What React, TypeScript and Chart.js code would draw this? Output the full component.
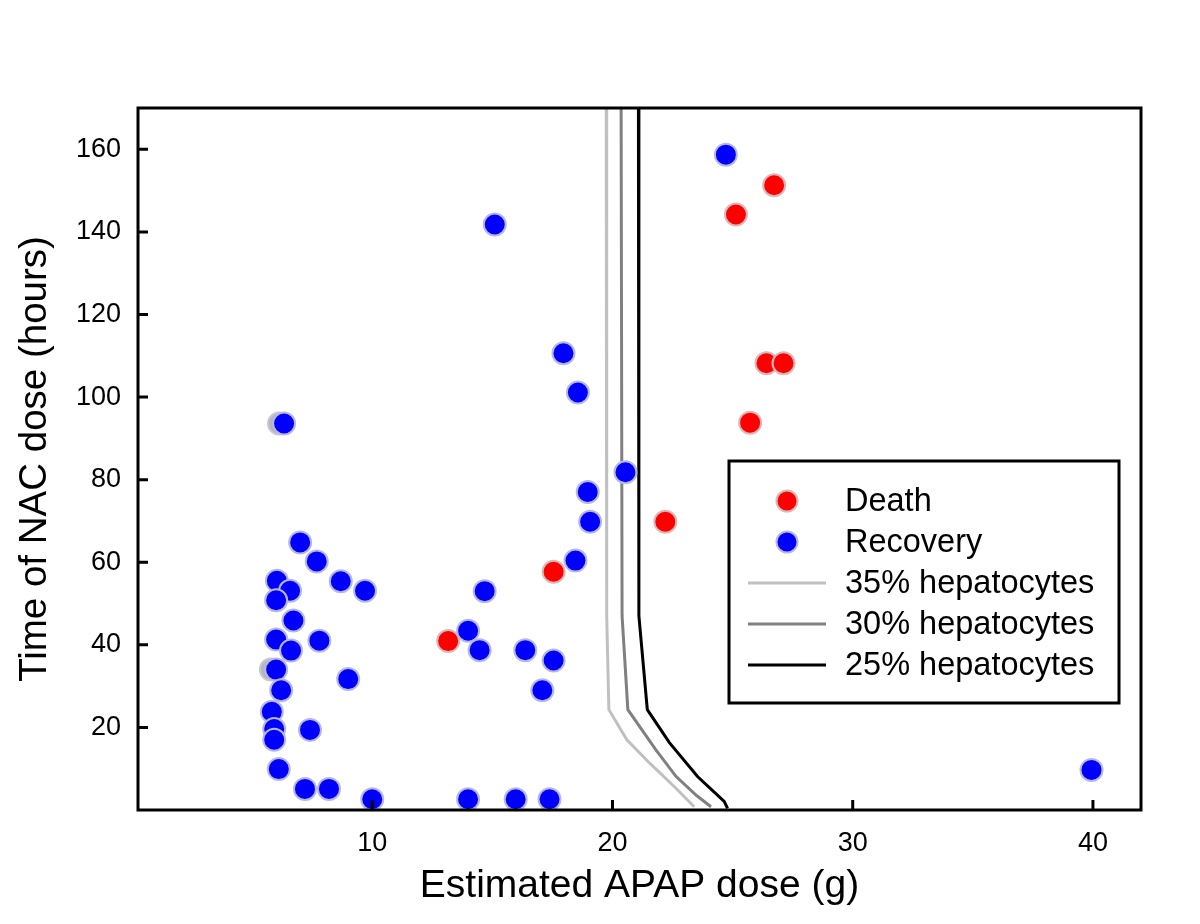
import React, { useEffect, useRef } from "react";
import { Chart, registerables } from "chart.js";

Chart.register(...registerables);

// ---------- data ----------
const recoveryDose = [
  24.72, 15.1, 17.96, 18.56, 6.33, 20.54, 18.97, 19.07, 7.0, 7.69, 18.46, 6.03, 6.58, 8.69,
  9.7, 14.68, 6.0, 6.72, 13.99, 6.0, 7.8, 6.62, 14.47, 16.37, 17.55, 6.0, 9.0, 6.21, 17.08,
  5.82, 7.41, 5.92, 5.92, 6.11, 7.2, 8.2, 10.0, 13.99, 15.97, 17.38, 39.94,
];
const recoveryTime = [
  158.7, 141.8, 110.6, 101.1, 93.6, 81.8, 77.0, 69.8, 64.8, 60.2, 60.4, 55.5, 53.1, 55.4,
  53.1, 53.0, 50.8, 45.9, 43.4, 41.3, 41.0, 38.6, 38.7, 38.7, 36.2, 34.0, 31.7, 29.0, 29.0,
  23.8, 19.4, 19.6, 17.0, 9.9, 5.1, 5.1, 2.6, 2.6, 2.6, 2.6, 9.7,
];

const deathDose = [26.73, 25.14, 26.41, 27.12, 25.73, 22.2, 17.55, 13.16];
const deathTime = [151.3, 144.2, 108.2, 108.2, 93.8, 69.8, 57.7, 40.9];

// partly hidden points peeking out from behind recovery markers
const hiddenDose = [6.12, 5.78];
const hiddenTime = [93.6, 34.0];

const curve35Dose = [19.74, 19.76, 19.85, 20.6, 21.54, 22.6, 23.4];
const curve35Time = [170, 47, 24.3, 17.0, 11.4, 5.5, 0.8];
const curve30Dose = [20.36, 20.4, 20.64, 21.8, 22.65, 23.5, 24.1];
const curve30Time = [170, 47, 24.3, 14.6, 8.1, 3.5, 0.8];
const curve25Dose = [21.08, 21.1, 21.45, 22.37, 23.54, 24.65, 24.79];
const curve25Time = [170, 47, 24.3, 16.3, 8.1, 2.1, 0.4];

const xTickValues = [10, 20, 30, 40];
const yTickValues = [20, 40, 60, 80, 100, 120, 140, 160];

const seriesLabels = ["Death", "Recovery", "35% hepatocytes", "30% hepatocytes", "25% hepatocytes"];

const FONT = "'Liberation Sans', Arial, Helvetica, sans-serif";

const toPoints = (xs: number[], ys: number[]) => xs.map((x, i) => ({ x, y: ys[i] }));

// ---------- plugins ----------
const frameAndTicks = {
  id: "frameAndTicks",
  afterDraw(chart: any) {
    const { ctx, chartArea: a, scales } = chart;
    ctx.save();
    ctx.strokeStyle = "#000";
    ctx.lineWidth = 3;
    ctx.beginPath();
    for (const t of scales.x.ticks) {
      const px = scales.x.getPixelForValue(t.value);
      ctx.moveTo(px, a.bottom);
      ctx.lineTo(px, a.bottom - 10);
    }
    for (const t of scales.y.ticks) {
      const py = scales.y.getPixelForValue(t.value);
      ctx.moveTo(a.left, py);
      ctx.lineTo(a.left + 10, py);
    }
    ctx.stroke();
    ctx.strokeRect(a.left, a.top, a.right - a.left, a.bottom - a.top);
    ctx.restore();
  },
};

const legendBox = {
  id: "legendBox",
  afterDraw(chart: any) {
    const { ctx } = chart;
    const ds = chart.data.datasets;
    const order = [2, 0, 4, 5, 6]; // Death, Recovery, 35, 30, 25
    const left = 729,
      top = 461,
      right = 1119,
      bottom = 703;
    ctx.save();
    ctx.fillStyle = "#fff";
    ctx.fillRect(left, top, right - left, bottom - top);
    ctx.strokeStyle = "#000";
    ctx.lineWidth = 3;
    ctx.strokeRect(left, top, right - left, bottom - top);
    ctx.font = `32.5px ${FONT}`;
    ctx.textBaseline = "middle";
    ctx.textAlign = "left";
    order.forEach((idx, i) => {
      const d = ds[idx];
      const cy = 501 + i * 41;
      if (d.showLine) {
        ctx.strokeStyle = d.borderColor;
        ctx.lineWidth = 3;
        ctx.beginPath();
        ctx.moveTo(748, cy);
        ctx.lineTo(826, cy);
        ctx.stroke();
      } else {
        ctx.beginPath();
        ctx.arc(787, cy, 10.5, 0, Math.PI * 2);
        ctx.fillStyle = d.backgroundColor;
        ctx.fill();
        ctx.strokeStyle = d.borderColor;
        ctx.lineWidth = 2;
        ctx.stroke();
      }
      ctx.fillStyle = "#000";
      ctx.fillText(d.label, 845, cy + 1);
    });
    ctx.restore();
  },
};

export default function App() {
  const ref = useRef<HTMLCanvasElement | null>(null);

  useEffect(() => {
    if (!ref.current) return;
    const chart = new Chart(ref.current, {
      type: "scatter",
      data: {
        datasets: [
          {
            label: seriesLabels[1],
            data: toPoints(recoveryDose, recoveryTime),
            backgroundColor: "#0000ff",
            borderColor: "#b8b8dc",
            borderWidth: 2,
            pointRadius: 11,
            clip: false,
          } as any,
          {
            label: "",
            data: toPoints(hiddenDose, hiddenTime),
            backgroundColor: "#b4b4c4",
            borderColor: "#c8c8d0",
            borderWidth: 2,
            pointRadius: 11,
            clip: false,
          },
          {
            label: seriesLabels[0],
            data: toPoints(deathDose, deathTime),
            backgroundColor: "#ff0000",
            borderColor: "#d8b8b8",
            borderWidth: 2,
            pointRadius: 11,
            clip: false,
          },
          { label: "spacer", data: [], hidden: true },
          {
            label: seriesLabels[2],
            data: toPoints(curve35Dose, curve35Time),
            showLine: true,
            borderColor: "#c0c0c0",
            backgroundColor: "#c0c0c0",
            borderWidth: 3,
            pointRadius: 0,
            tension: 0,
          },
          {
            label: seriesLabels[3],
            data: toPoints(curve30Dose, curve30Time),
            showLine: true,
            borderColor: "#808080",
            backgroundColor: "#808080",
            borderWidth: 3,
            pointRadius: 0,
            tension: 0,
          },
          {
            label: seriesLabels[4],
            data: toPoints(curve25Dose, curve25Time),
            showLine: true,
            borderColor: "#000000",
            backgroundColor: "#000000",
            borderWidth: 3,
            pointRadius: 0,
            tension: 0,
          },
        ],
      },
      options: {
        responsive: false,
        animation: false,
        events: [],
        layout: { padding: { top: 108, right: 59, left: 0, bottom: 0 } },
        plugins: { legend: { display: false }, tooltip: { enabled: false } },
        scales: {
          x: {
            type: "linear",
            min: 0.25,
            max: 42,
            grid: { display: false },
            border: { display: false },
            afterBuildTicks: (s: any) => {
              s.ticks = xTickValues.map((v) => ({ value: v }));
            },
            afterFit: (s: any) => {
              s.height = 114;
            },
            ticks: { color: "#000", padding: 9, font: { family: FONT, size: 27 } },
            title: {
              display: true,
              text: "Estimated APAP dose (g)",
              color: "#000",
              font: { family: FONT, size: 39 },
              padding: { top: 0, bottom: 14 },
            },
          },
          y: {
            type: "linear",
            min: 0,
            max: 170,
            grid: { display: false },
            border: { display: false },
            afterBuildTicks: (s: any) => {
              s.ticks = yTickValues.map((v) => ({ value: v }));
            },
            afterFit: (s: any) => {
              s.width = 138;
            },
            ticks: { color: "#000", padding: 9, font: { family: FONT, size: 27 } },
            title: {
              display: true,
              text: "Time of NAC dose (hours)",
              color: "#000",
              font: { family: FONT, size: 38.5 },
              padding: { top: 12, bottom: 0 },
            },
          },
        },
      },
      plugins: [frameAndTicks, legendBox],
    } as any);
    return () => chart.destroy();
  }, []);

  return (
    <div style={{ position: "absolute", left: 0, top: 0, width: 1200, height: 924, background: "#fff" }}>
      <canvas ref={ref} width={1200} height={924} style={{ display: "block" }} />
    </div>
  );
}
